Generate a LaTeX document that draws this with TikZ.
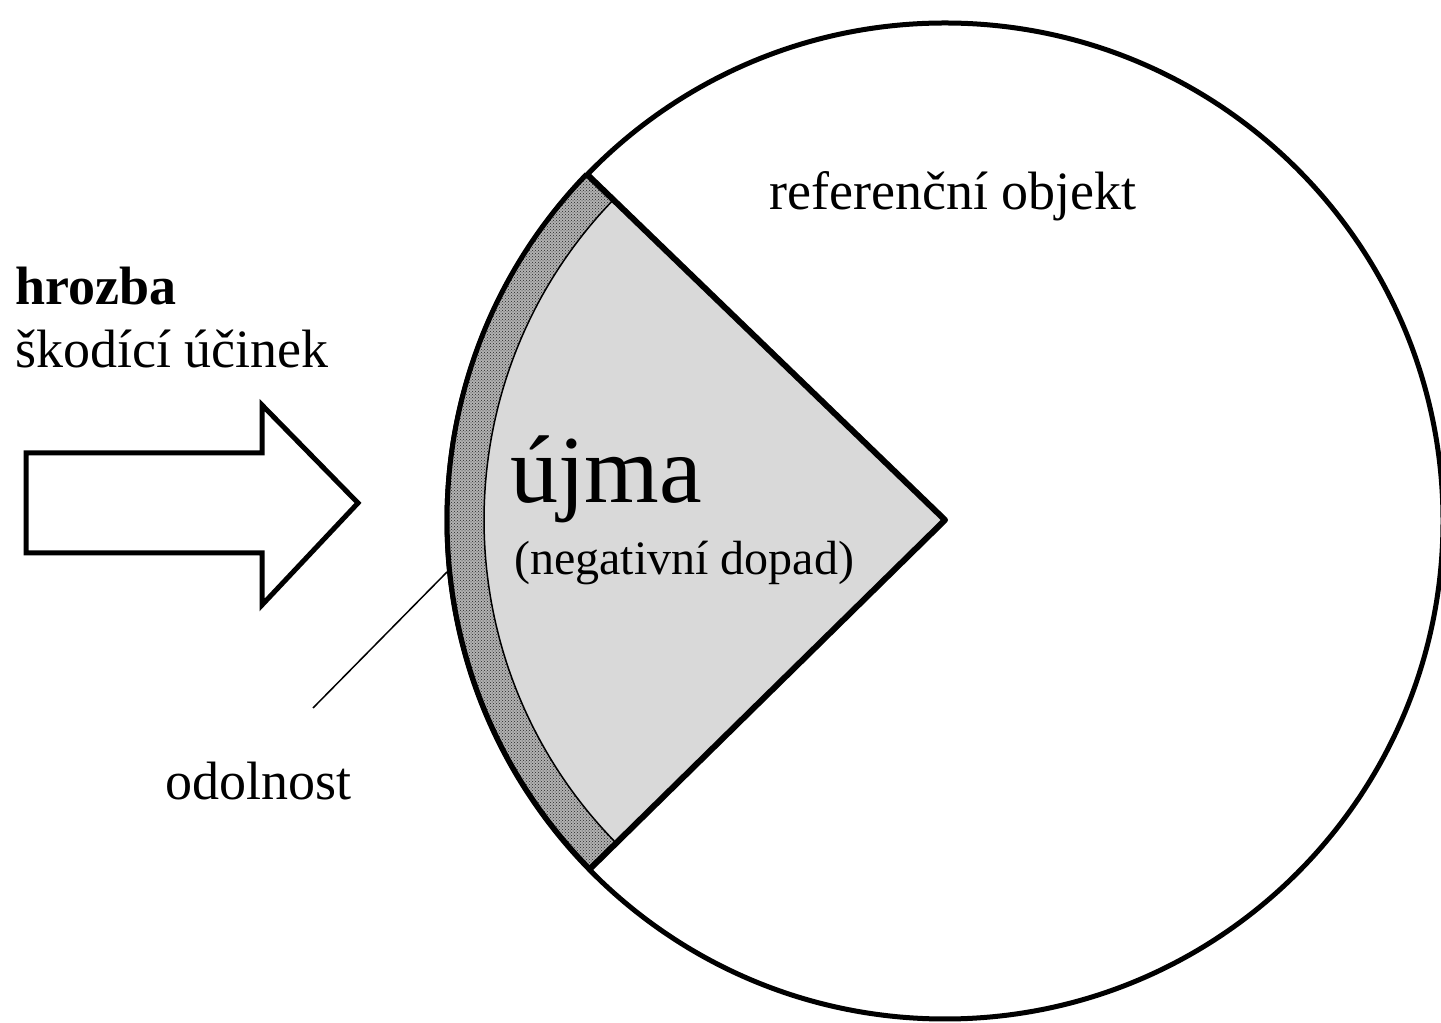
\documentclass[tikz,border=0pt]{standalone}
\usepackage{fontspec}
\setmainfont{Liberation Serif}
\usepackage{tikz}
\usetikzlibrary{calc,patterns}

\newcommand{\bigtxt}{\fontsize{54pt}{60pt}\selectfont}

\begin{document}
\begin{tikzpicture}[x=1pt,y=1pt]
	\useasboundingbox (0,0) rectangle (1441,1023);
	\coordinate (stred) at (945,503);
	% referencni objekt
	\draw[line width=5pt,fill=white] (945,502) circle[radius=498pt];
	\fill[black!15] (stred) -- ($(stred)+(136:461)$) arc[start angle=136,end angle=224.5,radius=461pt] -- cycle;
	% odolnost
	\fill[gray!60] ($(stred)+(136:461)$) arc[start angle=136,end angle=224.5,radius=461pt]
		-- ($(stred)+(224.5:498)$) arc[start angle=224.5,end angle=136,radius=498pt] -- cycle;
	\fill[pattern=crosshatch dots,pattern color=black!85] ($(stred)+(136:461)$) arc[start angle=136,end angle=224.5,radius=461pt]
		-- ($(stred)+(224.5:498)$) arc[start angle=224.5,end angle=136,radius=498pt] -- cycle;
	\draw[line width=1.5pt] ($(stred)+(136:461)$) arc[start angle=136,end angle=224.5,radius=461pt];
	\draw[line width=5pt] ($(stred)+(136:498)$) arc[start angle=136,end angle=224.5,radius=498pt];
	\draw[line width=6pt,line join=round] ($(stred)+(136:498)$) -- (stred) -- ($(stred)+(224.5:498)$);
	% hrozba
	\draw[line width=5pt] (26,570) -- (262,570) -- (262,618) -- (358,520) -- (262,418) -- (262,470) -- (26,470) -- cycle;
	\node[anchor=base west,inner sep=0pt] (hrozba) at (15,718) {\bigtxt\bfseries hrozba};
	\node[anchor=base west,inner sep=0pt] (ucinek) at (15,655) {\bigtxt škodící účinek};
	\node[anchor=base,inner sep=0pt] (objekt) at (953,813) {\bigtxt referenční objekt};
	\node[anchor=base west,inner sep=0pt] (ujma) at (510,520) {\fontsize{96pt}{100pt}\selectfont újma};
	\node[anchor=base west,inner sep=0pt] (dopad) at (514,448) {\fontsize{48pt}{54pt}\selectfont (negativní dopad)};
	\node[anchor=base west,inner sep=0pt] (odolnost) at (165,223) {\bigtxt odolnost};
	\coordinate (popisek) at (313,315);
	\coordinate (vrstva) at (447,451);
	\draw[line width=1.5pt] (popisek) -- (vrstva);
\end{tikzpicture}
\end{document}
